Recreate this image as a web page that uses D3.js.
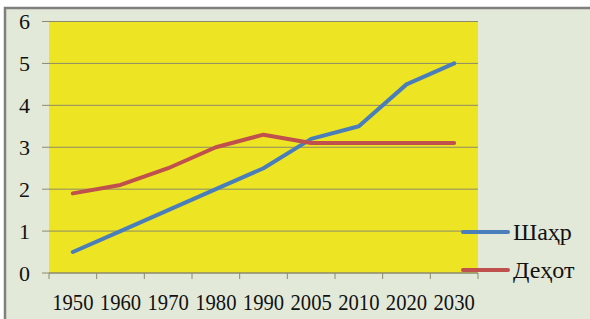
<!DOCTYPE html>
<html>
<head>
<meta charset="utf-8">
<script src="https://cdn.jsdelivr.net/npm/d3@7"></script>
<style>
  body { margin: 0; background: #fff; }
  svg { display: block; }
  text { font-family: "Liberation Serif", "Times New Roman", serif; fill: #111; }
</style>
</head>
<body>
<div id="chart"></div>
<script>
// data
var years = ["1950", "1960", "1970", "1980", "1990", "2005", "2010", "2020", "2030"]
var shahr = [0.5, 1.0, 1.5, 2.0, 2.5, 3.2, 3.5, 4.5, 5.0]
var dehot = [1.9, 2.1, 2.5, 3.0, 3.3, 3.1, 3.1, 3.1, 3.1]
var seriesNames = ["Шаҳр", "Деҳот"]
var yTicks = [0, 1, 2, 3, 4, 5, 6]

var width = 590, height = 319
var plot = { left: 49, top: 21.5, right: 478, bottom: 273 }

var svg = d3.select("#chart").append("svg")
    .attr("width", width)
    .attr("height", height)

// chart area background + border
svg.append("rect")
    .attr("x", 5).attr("y", 8)
    .attr("width", width - 5).attr("height", height - 8)
    .attr("fill", "#e3e9d9")
svg.append("path")
    .attr("d", "M5," + height + "V8H" + width)
    .attr("fill", "none")
    .attr("stroke", "#7f7f7f")
    .attr("stroke-width", 2.5)

var x = d3.scaleBand()
    .domain(years)
    .range([plot.left, plot.right])

var y = d3.scaleLinear()
    .domain([0, 6])
    .range([plot.bottom, plot.top])

// yellow plot area
svg.append("rect")
    .attr("x", plot.left).attr("y", plot.top)
    .attr("width", plot.right - plot.left)
    .attr("height", plot.bottom - plot.top)
    .attr("fill", "#ede523")

// gridlines
svg.append("g")
    .selectAll("line")
    .data(yTicks)
    .enter().append("line")
    .attr("x1", plot.left - 7).attr("x2", plot.right)
    .attr("y1", function (d) { return y(d) }).attr("y2", function (d) { return y(d) })
    .attr("stroke", "#8c8a6a")
    .attr("stroke-width", 1)

// y labels
svg.append("g")
    .selectAll("text")
    .data(yTicks)
    .enter().append("text")
    .attr("x", 30)
    .attr("y", function (d) { return y(d) })
    .attr("dy", "0.35em")
    .attr("text-anchor", "end")
    .attr("font-size", 22)
    .text(function (d) { return d })

// x axis line and ticks (ticks at category boundaries)
var bounds = years.map(function (d) { return x(d) }).concat([plot.right])
var xa = svg.append("g")
xa.append("line")
    .attr("x1", plot.left).attr("x2", plot.right)
    .attr("y1", plot.bottom).attr("y2", plot.bottom)
    .attr("stroke", "#8c8a6a")
xa.selectAll(".tick")
    .data(bounds)
    .enter().append("line")
    .attr("x1", function (d) { return d }).attr("x2", function (d) { return d })
    .attr("y1", plot.bottom).attr("y2", plot.bottom + 6)
    .attr("stroke", "#8c8a6a")
xa.selectAll("text")
    .data(years)
    .enter().append("text")
    .attr("transform", function (d) {
        return "translate(" + (x(d) + x.bandwidth() / 2) + "," + 302 + ") scale(0.86,1)"
    })
    .attr("dy", "0.35em")
    .attr("text-anchor", "middle")
    .attr("font-size", 24)
    .text(function (d) { return d })

// lines
var colors = ["#4a7ebb", "#c0504d"]
var allSeries = [shahr, dehot]
var line = d3.line()
    .x(function (d, i) { return x(years[i]) + x.bandwidth() / 2 })
    .y(function (d) { return y(d) })

svg.append("g")
    .selectAll("path")
    .data(allSeries)
    .enter().append("path")
    .attr("d", line)
    .attr("fill", "none")
    .attr("stroke", function (d, i) { return colors[i] })
    .attr("stroke-width", 4)
    .attr("stroke-linecap", "round")
    .attr("stroke-linejoin", "round")

// legend
var legend = svg.append("g")
    .selectAll("g")
    .data(seriesNames)
    .enter().append("g")
    .attr("transform", function (d, i) { return "translate(463," + (232 + i * 38) + ")" })
legend.append("line")
    .attr("x1", 0).attr("x2", 45)
    .attr("stroke", function (d, i) { return colors[i] })
    .attr("stroke-width", 4)
    .attr("stroke-linecap", "round")
legend.append("text")
    .attr("x", 50)
    .attr("dy", "0.35em")
    .attr("font-size", 24)
    .text(function (d) { return d })
</script>
</body>
</html>
